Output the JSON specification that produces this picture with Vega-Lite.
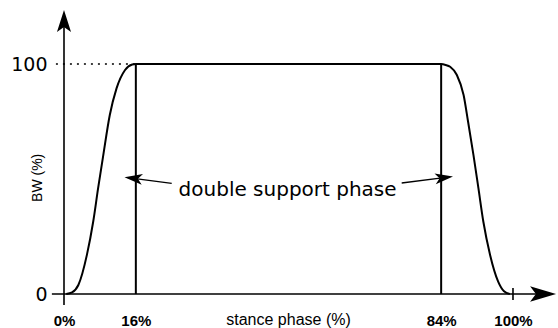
{
  "$schema": "https://vega.github.io/schema/vega-lite/v6.json",
  "width": 492,
  "height": 290,
  "autosize": {"type": "none"},
  "padding": {"left": 64, "right": 2, "top": 4, "bottom": 34},
  "background": "white",
  "config": {"view": {"stroke": null}},
  "encoding": {
    "x": {
      "type": "quantitative",
      "scale": {"domain": [0, 109.58], "nice": false, "zero": false},
      "axis": {
        "values": [0, 16, 84, 100],
        "labelExpr": "datum.value + '%'",
        "labelFont": "Liberation Sans",
        "labelFontWeight": "bold",
        "labelFontSize": 15,
        "labelColor": "black",
        "labelBaseline": "alphabetic",
        "labelPadding": 31,
        "labelDx": 4,
        "labelFlush": false,
        "labelOverlap": false,
        "domain": false,
        "ticks": false,
        "tickSize": 0,
        "grid": false,
        "title": "stance phase (%)",
        "titleFont": "Liberation Sans",
        "titleFontSize": 16,
        "titleFontWeight": "normal",
        "titleColor": "black",
        "titleX": 224,
        "titleY": 30.5,
        "titleBaseline": "alphabetic"
      }
    },
    "y": {
      "type": "quantitative",
      "scale": {"domain": [0, 126.09], "nice": false, "zero": false},
      "axis": {
        "values": [0, 100],
        "labelFont": "DejaVu Sans",
        "labelFontSize": 19,
        "labelColor": "black",
        "labelPadding": 17,
        "labelBaseline": "middle",
        "domain": false,
        "ticks": false,
        "tickSize": 0,
        "grid": false,
        "title": null
      }
    }
  },
  "layer": [
    {
      "data": {"values": [
        {"x": 0.5, "y": 0}, {"x": 1.8, "y": 0.7}, {"x": 3.2, "y": 3.9}, {"x": 5.1, "y": 17},
        {"x": 6.5, "y": 31.4}, {"x": 7.6, "y": 46}, {"x": 8.75, "y": 60.4}, {"x": 10.2, "y": 77.8},
        {"x": 11.7, "y": 89.4}, {"x": 13.6, "y": 97.4}, {"x": 15.2, "y": 99.8}, {"x": 16, "y": 100},
        {"x": 84, "y": 100}, {"x": 85, "y": 99.6}, {"x": 86, "y": 98.8}, {"x": 87.5, "y": 95.2},
        {"x": 89, "y": 86.5}, {"x": 90, "y": 74.9}, {"x": 91.2, "y": 60.4}, {"x": 92.3, "y": 46},
        {"x": 93.4, "y": 31.4}, {"x": 94.9, "y": 17}, {"x": 96.7, "y": 5.4}, {"x": 98, "y": 1.2},
        {"x": 99.3, "y": 0}
      ]},
      "mark": {"type": "line", "color": "black", "strokeWidth": 2, "interpolate": "monotone"},
      "encoding": {"x": {"field": "x"}, "y": {"field": "y"}}
    },
    {
      "data": {"values": [{"x": 16, "y": 0, "y2": 100}, {"x": 84, "y": 0, "y2": 100}]},
      "mark": {"type": "rule", "color": "black", "strokeWidth": 2},
      "encoding": {"x": {"field": "x"}, "y": {"field": "y"}, "y2": {"field": "y2"}}
    },
    {
      "data": {"values": [{"x": -1.8, "x2": 16, "y": 100}]},
      "mark": {"type": "rule", "color": "black", "strokeWidth": 1.6, "strokeDash": [2, 5]},
      "encoding": {"x": {"field": "x"}, "x2": {"field": "x2"}, "y": {"field": "y"}}
    },
    {
      "data": {"values": [{"x": -2.7, "x2": 106, "y": 0, "y2": 0}, {"x": 0, "x2": 0, "y": -4.8, "y2": 118}, {"x": 100, "x2": 100, "y": -2.6, "y2": 2.6}]},
      "mark": {"type": "rule", "color": "black", "strokeWidth": 1.6},
      "encoding": {"x": {"field": "x"}, "x2": {"field": "x2"}, "y": {"field": "y"}, "y2": {"field": "y2"}}
    },
    {
      "data": {"values": [{"x": 0, "y": 118.7}]},
      "mark": {"type": "point", "filled": true, "color": "black", "opacity": 1, "size": 484, "shape": "M0,-1L0.64,1L0,0.55L-0.64,1Z"},
      "encoding": {"x": {"field": "x"}, "y": {"field": "y"}}
    },
    {
      "data": {"values": [{"x": 106.7, "y": 0}]},
      "mark": {"type": "point", "filled": true, "color": "black", "opacity": 1, "size": 676, "shape": "M1,0L-1,0.6L-0.55,0L-1,-0.6Z"},
      "encoding": {"x": {"field": "x"}, "y": {"field": "y"}}
    },
    {
      "data": {"values": [{"x": 23.99, "y": 48.13, "x2": 15.46, "y2": 50.3}, {"x": 75.21, "y": 48.26, "x2": 84.65, "y2": 50.57}]},
      "mark": {"type": "rule", "color": "black", "strokeWidth": 1.3},
      "encoding": {"x": {"field": "x"}, "x2": {"field": "x2"}, "y": {"field": "y"}, "y2": {"field": "y2"}}
    },
    {
      "data": {"values": [{"x": 15.46, "y": 50.3}]},
      "mark": {"type": "point", "filled": true, "color": "black", "opacity": 1, "size": 324, "angle": 187, "shape": "M1,0L-1,0.6L-0.5,0L-1,-0.6Z"},
      "encoding": {"x": {"field": "x"}, "y": {"field": "y"}}
    },
    {
      "data": {"values": [{"x": 84.65, "y": 50.57}]},
      "mark": {"type": "point", "filled": true, "color": "black", "opacity": 1, "size": 324, "angle": 353, "shape": "M1,0L-1,0.6L-0.5,0L-1,-0.6Z"},
      "encoding": {"x": {"field": "x"}, "y": {"field": "y"}}
    },
    {
      "data": {"values": [{"x": 49.8, "y": 42.8, "label": "double support phase"}]},
      "mark": {"type": "text", "font": "DejaVu Sans", "fontSize": 20, "align": "center", "baseline": "alphabetic", "color": "black"},
      "encoding": {"x": {"field": "x"}, "y": {"field": "y"}, "text": {"field": "label"}}
    },
    {
      "data": {"values": [{"x": -5.8, "y": 50.5, "label": "BW (%)"}]},
      "mark": {"type": "text", "font": "Liberation Sans", "fontSize": 14, "align": "center", "baseline": "middle", "angle": 270, "color": "black"},
      "encoding": {"x": {"field": "x"}, "y": {"field": "y"}, "text": {"field": "label"}}
    }
  ]
}
